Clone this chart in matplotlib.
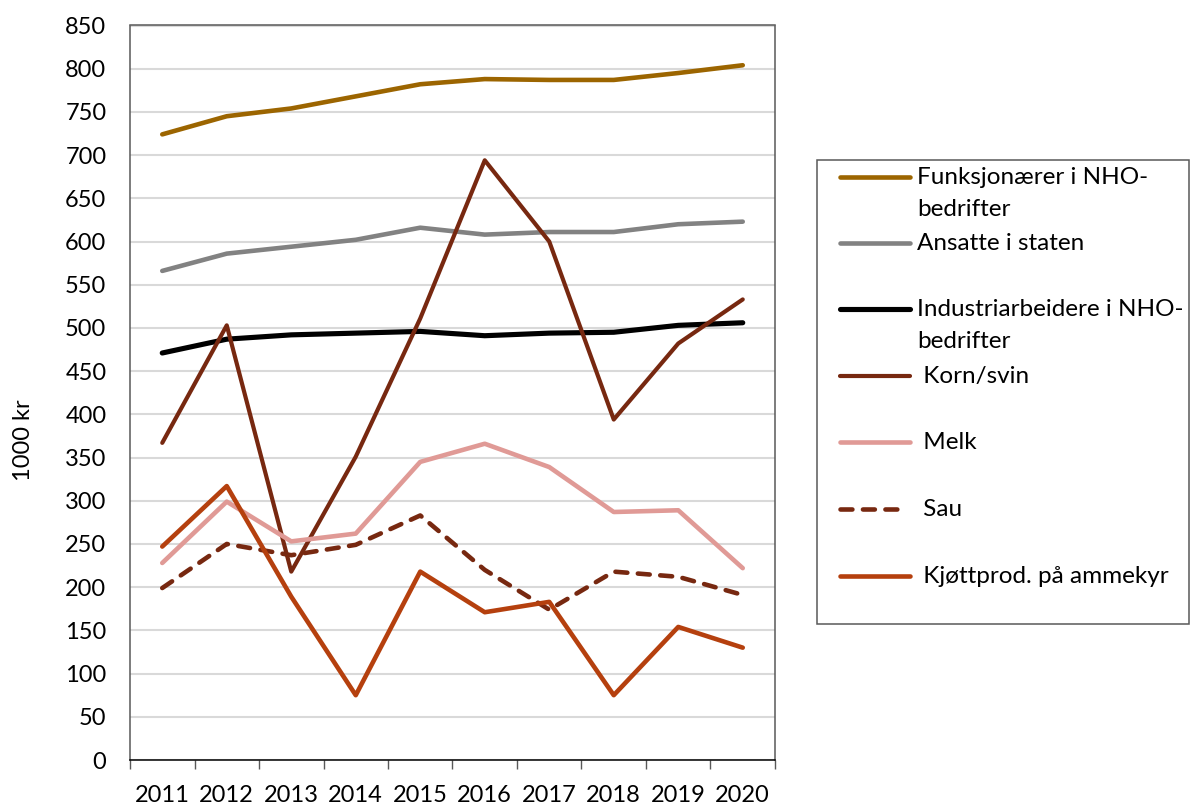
import matplotlib
matplotlib.use("Agg")
import matplotlib.pyplot as plt
from matplotlib.patches import Rectangle
from matplotlib.lines import Line2D

plt.rcParams['font.family'] = ['Lato', 'DejaVu Sans']

years = ["2011", "2012", "2013", "2014", "2015", "2016", "2017", "2018", "2019", "2020"]

funksjonaerer = [724, 745, 754, 768, 782, 788, 787, 787, 795, 804]
ansatte_staten = [566, 586, 594, 602, 616, 608, 611, 611, 620, 623]
industriarbeidere = [471, 487, 492, 494, 496, 491, 494, 495, 503, 506]
korn_svin = [367, 503, 218, 351, 511, 694, 600, 394, 482, 533]
melk = [228, 299, 253, 262, 345, 366, 339, 287, 289, 222]
sau = [199, 250, 237, 249, 283, 220, 174, 218, 212, 191]
kjottprod = [247, 317, 189, 75, 218, 171, 183, 75, 154, 130]

labels = ["Funksjonærer i NHO-\nbedrifter", "Ansatte i staten",
          "Industriarbeidere i NHO-\nbedrifter", " Korn/svin", " Melk", " Sau",
          " Kjøttprod. på ammekyr"]
series = [funksjonaerer, ansatte_staten, industriarbeidere, korn_svin, melk, sau, kjottprod]
colors = ["#9C6500", "#828282", "#000000", "#772810", "#E09A96", "#772810", "#B5400E"]
widths = [3.3, 3.3, 3.7, 3.0, 3.3, 3.3, 3.3]
styles = ["-", "-", "-", "-", "-", "--", "-"]

W, H = 1192, 805
fig = plt.figure(figsize=(W / 100, H / 100), dpi=100)
ax = fig.add_axes([130 / W, 1 - 760 / H, (775 - 130) / W, (760 - 25.5) / H])

x = list(range(len(years)))
for vals, c, lw, ls in zip(series, colors, widths, styles):
    if ls == "--":
        ax.plot(x, vals, color=c, lw=lw, dashes=(2.6, 2.3), dash_capstyle='round',
                solid_joinstyle='round', zorder=3)
    else:
        ax.plot(x, vals, color=c, lw=lw, solid_capstyle='round',
                solid_joinstyle='round', zorder=3)

ax.set_xlim(-0.5, len(years) - 0.5)
ax.set_ylim(0, 850)
ax.set_yticks(range(0, 851, 50))
ax.yaxis.grid(True, color="#D9D9D9", lw=1.5, zorder=0)
ax.set_axisbelow(True)
ax.tick_params(axis='y', length=0, pad=17, labelsize=17)

ax.set_xticks([i - 0.5 for i in range(len(years) + 1)])
ax.set_xticklabels([])
ax.set_xticks(x, minor=True)
ax.set_xticklabels(years, minor=True)
ax.tick_params(axis='x', which='major', length=6.5, width=1, color="#595959", direction='out')
ax.tick_params(axis='x', which='minor', length=0, pad=18, labelsize=17)

for s in ['left', 'top', 'right']:
    ax.spines[s].set_color("#595959")
    ax.spines[s].set_linewidth(1.1)
ax.spines['bottom'].set_color("#000000")
ax.spines['bottom'].set_linewidth(1.1)

fig.text(23 / W, 1 - 440 / H, "1000 kr", rotation=90, ha='center', va='center', fontsize=17)

# legend drawn in pixel coordinates
lax = fig.add_axes([0, 0, 1, 1], zorder=5)
lax.set_xlim(0, W)
lax.set_ylim(H, 0)
lax.axis('off')
lax.patch.set_alpha(0)
lax.add_patch(Rectangle((817, 160), 372, 464, fill=False, ec="#595959", lw=1.1))
ys = [177, 243, 309, 376, 442, 509, 576]
for lab, c, lw, ls, yy in zip(labels, colors, widths, styles, ys):
    if ls == "--":
        lax.add_line(Line2D([840, 905], [yy, yy], color=c, lw=lw, dashes=(2.6, 2.3),
                            dash_capstyle='round'))
    else:
        lax.add_line(Line2D([840, 910], [yy, yy], color=c, lw=lw, solid_capstyle='round'))
    for i, part in enumerate(lab.split("\n")):
        lax.text(917, yy + i * 32, part, ha='left', va='center', fontsize=17.5)

fig.savefig("out.png", dpi=100)
